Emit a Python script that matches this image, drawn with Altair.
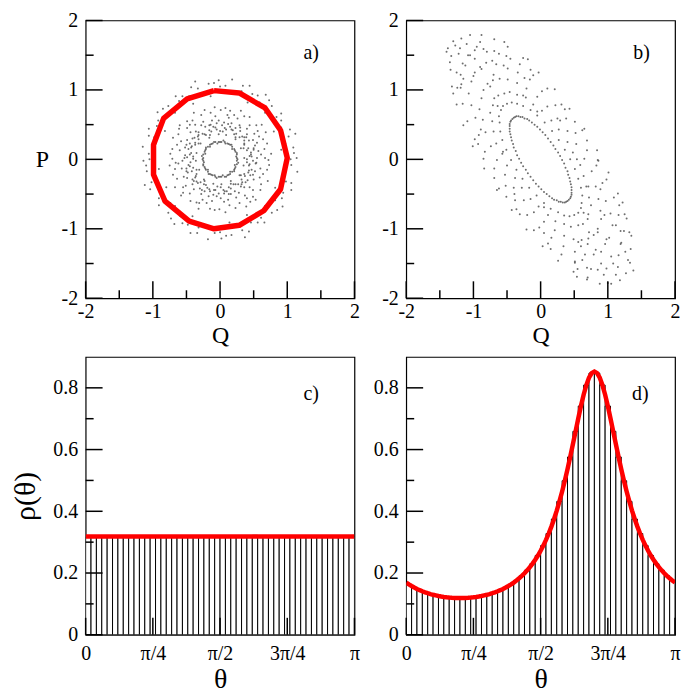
import altair as alt
import pandas as pd

FONT = "Liberation Serif, DejaVu Serif, serif"
W, H = 270, 279
MAJOR_LEN, MINOR_LEN = 17, 8

# ---------------- axis ticks / labels ----------------
QP_TICKS = [-2, -1, 0, 1, 2]
QP_LABELS = ["-2", "-1", "0", "1", "2"]
QP_MINOR = [-1.5, -0.5, 0.5, 1.5]
THETA_TICKS = [0, 0.25, 0.5, 0.75, 1]          # in units of pi
THETA_LABELS = ["0", "π/4", "π/2", "3π/4", "π"]
RHO_TICKS = [0, 0.2, 0.4, 0.6, 0.8]
RHO_LABELS = ["0", "0.2", "0.4", "0.6", "0.8"]
RHO_MINOR = [0.1, 0.3, 0.5, 0.7]

# ---------------- panel a ----------------
A_POLY_Q = [-0.09, 0.285, 0.67, 0.90, 1.00, 0.90, 0.65, 0.285, -0.09, -0.46, -0.82, -0.99, -0.99, -0.84, -0.49, -0.09]
A_POLY_P = [0.99, 0.956, 0.74, 0.42, 0.02, -0.43, -0.74, -0.95, -1.00, -0.89, -0.60, -0.22, 0.21, 0.59, 0.87, 0.99]

A_INNER = [
    (0.26, 0.00), (0.25, 0.02), (0.24, 0.04), (0.25, 0.07), (0.25, 0.09), (0.23, 0.11), (0.22, 0.13), (0.21, 0.15),
    (0.18, 0.15), (0.18, 0.18), (0.17, 0.21), (0.15, 0.21), (0.13, 0.22), (0.11, 0.23), (0.08, 0.23), (0.07, 0.25),
    (0.05, 0.27), (0.02, 0.25), (0.00, 0.25), (-0.02, 0.25), (-0.04, 0.23), (-0.07, 0.25), (-0.09, 0.25), (-0.11, 0.23),
    (-0.13, 0.22), (-0.15, 0.21), (-0.15, 0.18), (-0.18, 0.18), (-0.21, 0.17), (-0.21, 0.15), (-0.22, 0.13), (-0.23, 0.11),
    (-0.22, 0.08), (-0.25, 0.07), (-0.27, 0.05), (-0.25, 0.02), (-0.26, 0.00), (-0.25, -0.02), (-0.24, -0.04), (-0.25, -0.07),
    (-0.25, -0.09), (-0.23, -0.11), (-0.22, -0.13), (-0.21, -0.15), (-0.18, -0.15), (-0.18, -0.18), (-0.17, -0.21), (-0.15, -0.21),
    (-0.13, -0.22), (-0.11, -0.23), (-0.08, -0.23), (-0.07, -0.25), (-0.05, -0.27), (-0.02, -0.25), (0.00, -0.25), (0.02, -0.25),
    (0.04, -0.23), (0.07, -0.25), (0.09, -0.25), (0.11, -0.23), (0.13, -0.22), (0.15, -0.21), (0.15, -0.18), (0.18, -0.18),
    (0.21, -0.17), (0.21, -0.15), (0.22, -0.13), (0.23, -0.11), (0.22, -0.08), (0.25, -0.07), (0.27, -0.05), (0.25, -0.02),
]

A_MID = [
    (0.40, 0.00), (0.55, 0.02), (0.72, -0.01), (0.44, 0.05), (0.61, 0.07), (0.76, 0.08), (0.46, 0.10), (0.57, 0.12), (0.66, 0.15),
    (0.40, 0.13), (0.50, 0.16), (0.70, 0.23), (0.35, 0.16), (0.55, 0.24), (0.64, 0.29), (0.36, 0.21), (0.49, 0.28), (0.68, 0.39),
    (0.36, 0.27), (0.51, 0.37), (0.56, 0.41), (0.36, 0.32), (0.40, 0.36), (0.54, 0.49), (0.29, 0.32), (0.40, 0.44), (0.44, 0.49),
    (0.23, 0.32), (0.30, 0.41), (0.44, 0.61), (0.21, 0.36), (0.29, 0.49), (0.36, 0.62), (0.19, 0.42), (0.26, 0.59), (0.31, 0.70),
    (0.15, 0.47), (0.17, 0.52), (0.21, 0.64), (0.09, 0.43), (0.13, 0.60), (0.15, 0.70), (0.04, 0.40), (0.06, 0.53), (0.08, 0.74),
    (0.36, 0.02), (0.46, 0.07), (0.50, 0.14), (0.42, 0.16), (0.31, 0.16), (0.36, 0.23), (0.39, 0.32), (0.33, 0.33), (0.23, 0.29),
    (0.24, 0.37), (0.23, 0.45), (0.17, 0.43), (0.09, 0.35), (0.07, 0.45), (0.03, 0.49),
    (0.00, 0.41), (-0.02, 0.56), (0.01, 0.71), (-0.05, 0.43), (-0.07, 0.62), (-0.08, 0.75), (-0.10, 0.47), (-0.12, 0.56), (-0.14, 0.67),
    (-0.13, 0.40), (-0.16, 0.49), (-0.23, 0.71), (-0.15, 0.35), (-0.25, 0.54), (-0.28, 0.64), (-0.21, 0.35), (-0.28, 0.49), (-0.39, 0.67),
    (-0.26, 0.37), (-0.37, 0.50), (-0.41, 0.56), (-0.32, 0.35), (-0.36, 0.40), (-0.49, 0.55), (-0.32, 0.29), (-0.44, 0.39), (-0.49, 0.45),
    (-0.32, 0.23), (-0.41, 0.30), (-0.61, 0.44), (-0.37, 0.21), (-0.49, 0.28), (-0.62, 0.36), (-0.42, 0.19), (-0.58, 0.26), (-0.70, 0.31),
    (-0.47, 0.15), (-0.52, 0.17), (-0.64, 0.21), (-0.43, 0.09), (-0.60, 0.13), (-0.71, 0.15), (-0.40, 0.04), (-0.52, 0.06), (-0.74, 0.08),
    (-0.02, 0.36), (-0.07, 0.46), (-0.14, 0.50), (-0.16, 0.42), (-0.16, 0.31), (-0.23, 0.36), (-0.32, 0.39), (-0.33, 0.33), (-0.29, 0.23),
    (-0.37, 0.24), (-0.45, 0.23), (-0.43, 0.17), (-0.35, 0.09), (-0.45, 0.07), (-0.49, 0.03),
    (-0.40, 0.01), (-0.56, -0.02), (-0.71, 0.01), (-0.44, -0.04), (-0.62, -0.06), (-0.75, -0.09), (-0.45, -0.10), (-0.57, -0.13), (-0.67, -0.14),
    (-0.40, -0.12), (-0.50, -0.17), (-0.70, -0.22), (-0.35, -0.15), (-0.54, -0.25), (-0.64, -0.28), (-0.35, -0.21), (-0.49, -0.27), (-0.67, -0.40),
    (-0.37, -0.26), (-0.51, -0.38), (-0.55, -0.40), (-0.35, -0.32), (-0.41, -0.36), (-0.55, -0.48), (-0.29, -0.33), (-0.39, -0.43), (-0.45, -0.49),
    (-0.23, -0.31), (-0.30, -0.42), (-0.44, -0.60), (-0.21, -0.37), (-0.28, -0.50), (-0.35, -0.62), (-0.19, -0.41), (-0.26, -0.58), (-0.32, -0.71),
    (-0.15, -0.46), (-0.17, -0.53), (-0.20, -0.63), (-0.09, -0.44), (-0.12, -0.60), (-0.15, -0.71), (-0.04, -0.39), (-0.05, -0.53), (-0.08, -0.73),
    (-0.36, -0.02), (-0.47, -0.08), (-0.50, -0.13), (-0.42, -0.17), (-0.31, -0.15), (-0.36, -0.24), (-0.39, -0.31), (-0.33, -0.34), (-0.24, -0.29),
    (-0.24, -0.36), (-0.23, -0.46), (-0.16, -0.43), (-0.10, -0.35), (-0.07, -0.44), (-0.02, -0.49),
    (0.01, -0.40), (0.01, -0.56), (-0.01, -0.72), (0.05, -0.44), (0.06, -0.61), (0.08, -0.76), (0.10, -0.46), (0.12, -0.58), (0.14, -0.66),
    (0.13, -0.40), (0.16, -0.50), (0.23, -0.70), (0.16, -0.35), (0.24, -0.55), (0.29, -0.63), (0.20, -0.36), (0.28, -0.48), (0.39, -0.68),
    (0.27, -0.36), (0.37, -0.52), (0.40, -0.56), (0.32, -0.36), (0.36, -0.40), (0.49, -0.54), (0.32, -0.29), (0.44, -0.40), (0.49, -0.44),
    (0.31, -0.23), (0.41, -0.30), (0.60, -0.44), (0.36, -0.21), (0.50, -0.29), (0.61, -0.36), (0.42, -0.19), (0.59, -0.26), (0.71, -0.31),
    (0.47, -0.15), (0.52, -0.17), (0.64, -0.21), (0.43, -0.09), (0.60, -0.13), (0.70, -0.15), (0.40, -0.04), (0.53, -0.06), (0.73, -0.08),
    (0.02, -0.36), (0.07, -0.46), (0.13, -0.50), (0.16, -0.42), (0.16, -0.31), (0.23, -0.36), (0.31, -0.39), (0.33, -0.33), (0.29, -0.23),
    (0.37, -0.24), (0.45, -0.23), (0.43, -0.16), (0.35, -0.09), (0.44, -0.07), (0.49, -0.02),
    (0.47, 0.04), (0.52, 0.20), (0.43, 0.27), (0.30, 0.46), (0.12, 0.51), (-0.05, 0.52), (-0.22, 0.47), (-0.38, 0.31), (-0.50, 0.21),
    (-0.53, 0.02), (-0.48, -0.19), (-0.41, -0.29), (-0.27, -0.44), (-0.10, -0.51), (0.06, -0.49), (0.22, -0.46), (0.38, -0.33),
    (0.49, -0.22), (0.54, -0.05), (0.58, 0.33), (0.11, 0.64), (-0.45, 0.50), (-0.66, -0.05), (-0.31, -0.63), (0.45, -0.61),
    (0.67, 0.02), (0.62, 0.50), (-0.60, 0.49), (-0.58, -0.52), (0.53, -0.58),
]

A_OUTER = [
    (1.05, 0.00), (1.14, 0.02), (0.91, 0.14), (1.09, 0.17), (1.02, 0.33), (1.12, 0.37), (0.91, 0.46), (0.80, 0.40), (0.91, 0.66), (0.84, 0.61),
    (0.67, 0.67), (0.77, 0.77), (0.68, 0.93), (0.59, 0.82), (0.48, 0.94), (0.41, 0.82), (0.34, 1.06), (0.32, 0.98), (0.15, 0.97), (0.18, 1.15),
    (1.10, 0.09), (0.97, 0.23), (1.04, 0.43), (0.91, 0.56), (0.74, 0.63), (0.73, 0.85), (0.56, 0.92), (0.44, 1.06), (0.23, 0.96), (0.08, 1.06),
    (0.00, 1.05), (-0.02, 1.14), (-0.14, 0.91), (-0.17, 1.09), (-0.33, 1.02), (-0.37, 1.12), (-0.46, 0.91), (-0.40, 0.80), (-0.66, 0.91), (-0.61, 0.84),
    (-0.67, 0.67), (-0.77, 0.77), (-0.93, 0.68), (-0.82, 0.59), (-0.94, 0.48), (-0.82, 0.41), (-1.06, 0.34), (-0.98, 0.32), (-0.97, 0.15), (-1.15, 0.18),
    (-0.09, 1.10), (-0.23, 0.97), (-0.43, 1.04), (-0.56, 0.91), (-0.63, 0.74), (-0.85, 0.73), (-0.92, 0.56), (-1.06, 0.44), (-0.96, 0.23), (-1.06, 0.08),
    (-1.05, 0.00), (-1.14, -0.02), (-0.91, -0.14), (-1.09, -0.17), (-1.02, -0.33), (-1.12, -0.37), (-0.91, -0.46), (-0.80, -0.40), (-0.91, -0.66), (-0.84, -0.61),
    (-0.67, -0.67), (-0.77, -0.77), (-0.68, -0.93), (-0.59, -0.82), (-0.48, -0.94), (-0.41, -0.82), (-0.34, -1.06), (-0.32, -0.98), (-0.15, -0.97), (-0.18, -1.15),
    (-1.10, -0.09), (-0.97, -0.23), (-1.04, -0.43), (-0.91, -0.56), (-0.74, -0.63), (-0.73, -0.85), (-0.56, -0.92), (-0.44, -1.06), (-0.23, -0.96), (-0.08, -1.06),
    (0.00, -1.05), (0.02, -1.14), (0.14, -0.91), (0.17, -1.09), (0.33, -1.02), (0.37, -1.12), (0.46, -0.91), (0.40, -0.80), (0.66, -0.91), (0.61, -0.84),
    (0.67, -0.67), (0.77, -0.77), (0.93, -0.68), (0.82, -0.59), (0.94, -0.48), (0.82, -0.41), (1.06, -0.34), (0.98, -0.32), (0.97, -0.15), (1.15, -0.18),
    (0.09, -1.10), (0.23, -0.97), (0.43, -1.04), (0.56, -0.91), (0.63, -0.74), (0.85, -0.73), (0.92, -0.56), (1.06, -0.44), (0.96, -0.23), (1.06, -0.08),
]

# ---------------- panel b ----------------
B_INNER = [
    (0.40, -0.60), (0.42, -0.58), (0.44, -0.56), (0.45, -0.54), (0.46, -0.51), (0.46, -0.48), (0.46, -0.44), (0.46, -0.40), (0.45, -0.36),
    (0.44, -0.32), (0.43, -0.27), (0.41, -0.22), (0.40, -0.17), (0.37, -0.12), (0.35, -0.06), (0.32, -0.01), (0.29, 0.05), (0.26, 0.10),
    (0.22, 0.15), (0.19, 0.20), (0.15, 0.25), (0.11, 0.30), (0.07, 0.35), (0.03, 0.39), (-0.01, 0.43), (-0.05, 0.47), (-0.09, 0.50),
    (-0.13, 0.53), (-0.17, 0.56), (-0.20, 0.58), (-0.24, 0.59), (-0.27, 0.61), (-0.30, 0.61), (-0.33, 0.62), (-0.36, 0.62), (-0.38, 0.61),
    (-0.40, 0.60), (-0.42, 0.58), (-0.44, 0.56), (-0.45, 0.54), (-0.46, 0.51), (-0.46, 0.48), (-0.46, 0.44), (-0.46, 0.40), (-0.45, 0.36),
    (-0.44, 0.32), (-0.43, 0.27), (-0.41, 0.22), (-0.40, 0.17), (-0.37, 0.12), (-0.35, 0.06), (-0.32, 0.01), (-0.29, -0.05), (-0.26, -0.10),
    (-0.22, -0.15), (-0.19, -0.20), (-0.15, -0.25), (-0.11, -0.30), (-0.07, -0.35), (-0.03, -0.39), (0.01, -0.43), (0.05, -0.47), (0.09, -0.50),
    (0.13, -0.53), (0.17, -0.56), (0.20, -0.58), (0.24, -0.59), (0.27, -0.61), (0.30, -0.61), (0.33, -0.62), (0.36, -0.62), (0.38, -0.61),
]

B_RINGS = [
    (0.63, -0.93), (0.70, -0.86), (0.71, -0.79), (0.75, -0.66), (0.72, -0.55), (0.71, -0.39), (0.64, -0.24), (0.59, -0.08), (0.48, 0.10),
    (0.40, 0.25), (0.27, 0.43), (0.16, 0.56), (0.02, 0.70), (-0.11, 0.79), (-0.22, 0.89), (-0.35, 0.93), (-0.46, 0.97), (-0.54, 0.95),
    (-0.63, 0.92), (-0.69, 0.88), (-0.71, 0.78), (-0.75, 0.67), (-0.72, 0.55), (-0.70, 0.40), (-0.66, 0.23), (-0.57, 0.08), (-0.50, -0.09),
    (-0.38, -0.27), (-0.28, -0.41), (-0.15, -0.57), (-0.03, -0.68), (0.11, -0.80), (0.22, -0.89), (0.35, -0.93), (0.45, -0.97), (0.56, -0.95),
    (0.56, -0.77), (0.60, -0.70), (0.61, -0.63), (0.62, -0.52), (0.60, -0.41), (0.56, -0.28), (0.51, -0.14), (0.44, 0.00), (0.36, 0.14),
    (0.27, 0.28), (0.17, 0.41), (0.06, 0.53), (-0.05, 0.63), (-0.15, 0.71), (-0.26, 0.77), (-0.35, 0.80), (-0.43, 0.82), (-0.50, 0.80),
    (-0.56, 0.77), (-0.59, 0.71), (-0.62, 0.62), (-0.61, 0.53), (-0.60, 0.40), (-0.57, 0.28), (-0.51, 0.14), (-0.44, -0.01), (-0.36, -0.15),
    (-0.27, -0.28), (-0.17, -0.41), (-0.06, -0.52), (0.05, -0.63), (0.15, -0.71), (0.26, -0.76), (0.35, -0.81), (0.43, -0.82), (0.50, -0.80),
    (0.90, -1.33), (0.96, -1.22), (1.02, -1.13), (1.07, -0.95), (1.04, -0.78), (0.97, -0.60), (0.92, -0.34), (0.83, -0.09), (0.69, 0.13),
    (0.52, 0.38), (0.38, 0.59), (0.22, 0.78), (0.02, 0.98), (-0.16, 1.15), (-0.34, 1.25), (-0.49, 1.31), (-0.66, 1.37), (-0.81, 1.39),
    (-0.90, 1.33), (-0.98, 1.25), (-1.03, 1.12), (-1.07, 0.95), (-1.03, 0.78), (-0.97, 0.60), (-0.92, 0.35), (-0.83, 0.11), (-0.69, -0.13),
    (-0.52, -0.38), (-0.38, -0.59), (-0.20, -0.80), (-0.02, -0.98), (0.16, -1.13), (0.34, -1.25), (0.51, -1.33), (0.66, -1.37), (0.79, -1.37),
    (0.79, -1.09), (0.85, -1.00), (0.90, -0.86), (0.89, -0.74), (0.86, -0.57), (0.82, -0.39), (0.76, -0.17), (0.65, 0.01), (0.53, 0.22),
    (0.40, 0.41), (0.25, 0.59), (0.10, 0.76), (-0.05, 0.90), (-0.21, 1.02), (-0.35, 1.10), (-0.49, 1.15), (-0.61, 1.16), (-0.71, 1.14),
    (-0.79, 1.09), (-0.85, 1.00), (-0.88, 0.88), (-0.91, 0.72), (-0.86, 0.57), (-0.82, 0.39), (-0.74, 0.19), (-0.65, -0.01), (-0.53, -0.22),
    (-0.40, -0.41), (-0.25, -0.59), (-0.10, -0.76), (0.05, -0.90), (0.21, -1.02), (0.35, -1.10), (0.49, -1.15), (0.61, -1.16), (0.71, -1.14),
    (1.18, -1.74), (1.27, -1.64), (1.33, -1.49), (1.34, -1.29), (1.32, -1.05), (1.25, -0.79), (1.15, -0.49), (1.01, -0.19), (0.84, 0.13),
    (0.65, 0.44), (0.43, 0.73), (0.21, 1.01), (-0.03, 1.25), (-0.26, 1.46), (-0.49, 1.62), (-0.69, 1.73), (-0.88, 1.79), (-1.05, 1.79),
    (-1.18, 1.74), (-1.27, 1.64), (-1.33, 1.49), (-1.34, 1.29), (-1.32, 1.05), (-1.25, 0.79), (-1.15, 0.49), (-1.01, 0.19), (-0.84, -0.13),
    (-0.65, -0.44), (-0.43, -0.73), (-0.21, -1.01), (0.03, -1.25), (0.26, -1.46), (0.49, -1.62), (0.69, -1.73), (0.88, -1.79), (1.05, -1.79),
    (1.08, -1.50), (1.16, -1.38), (1.19, -1.22), (1.19, -1.03), (1.16, -0.80), (1.09, -0.55), (0.98, -0.29), (0.85, -0.01), (0.69, 0.27),
    (0.51, 0.54), (0.31, 0.79), (0.10, 1.02), (-0.11, 1.21), (-0.31, 1.37), (-0.51, 1.49), (-0.69, 1.56), (-0.85, 1.59), (-0.98, 1.57),
    (-1.08, 1.50), (-1.16, 1.38), (-1.19, 1.22), (-1.19, 1.03), (-1.16, 0.80), (-1.09, 0.55), (-0.98, 0.29), (-0.85, 0.01), (-0.69, -0.27),
    (-0.51, -0.54), (-0.31, -0.79), (-0.10, -1.02), (0.11, -1.21), (0.31, -1.37), (0.51, -1.49), (0.69, -1.56), (0.85, -1.59), (0.98, -1.57),
]

B_SCATTER = [
    (1.26, -1.33), (0.51, -1.47), (1.17, -0.66), (0.05, -1.06), (0.86, -0.02), (-0.39, -0.50), (0.29, 0.56), (-0.93, 0.22),
    (-0.24, 1.17), (-1.15, 1.16), (-0.90, 1.69), (-1.20, 1.60), (1.12, -1.66), (0.56, -1.19), (0.68, -0.39), (-0.26, 0.92),
    (-0.19, 1.44), (-0.56, 0.11), (0.54, 0.00), (0.64, -0.77), (-0.64, 0.77), (0.54, -1.69), (-0.54, 1.69), (0.62, 0.42),
    (-0.62, -0.42), (1.24, -1.03), (-1.24, 1.03), (0.05, -0.69), (-0.05, 0.69), (0.94, -1.66), (-0.70, 1.22), (0.70, -1.22),
    (-0.36, -0.72), (0.36, 0.72), (1.38, -1.60), (-1.38, 1.60), (0.89, -0.43), (-0.89, 0.43), (0.15, -1.29), (-0.15, 1.29),
    (-1.30, 1.70), (-1.22, 1.52), (-1.10, 1.66), (-0.98, 1.45), (-1.35, 1.40), (-1.25, 1.25), (-1.12, 1.35), (-0.95, 1.62),
    (-0.80, 1.55), (-0.72, 1.42), (-1.40, 1.55), (-1.05, 1.50), (-0.88, 1.30), (-1.18, 1.08), (-1.30, 0.95), (-0.62, 1.52),
    (-0.55, 1.35), (-0.45, 1.45), (-1.00, 1.20), (-0.75, 1.05),
    (0.62, -1.45), (0.75, -1.58), (0.90, -1.50), (1.05, -1.40), (1.20, -1.20), (1.30, -1.45), (0.82, -1.30), (0.98, -1.15),
    (1.12, -0.95), (1.28, -0.85), (0.70, -1.70), (1.00, -1.78), (0.55, -1.58), (1.15, -1.55), (0.85, -1.05), (1.35, -1.10),
    (0.95, -0.80), (1.22, -0.62), (0.60, -1.25), (0.72, -1.05),
]

# ---------------- panels c, d (theta in units of pi) ----------------
BIN_EDGES = [0.00, 0.02, 0.04, 0.06, 0.08, 0.10, 0.12, 0.14, 0.16, 0.18, 0.20, 0.22, 0.24, 0.26, 0.28, 0.30, 0.32,
             0.34, 0.36, 0.38, 0.40, 0.42, 0.44, 0.46, 0.48, 0.50, 0.52, 0.54, 0.56, 0.58, 0.60, 0.62, 0.64, 0.66,
             0.68, 0.70, 0.72, 0.74, 0.76, 0.78, 0.80, 0.82, 0.84, 0.86, 0.88, 0.90, 0.92, 0.94, 0.96, 0.98, 1.00]

C_HIST = [0.316, 0.315, 0.317, 0.318, 0.319, 0.320, 0.319, 0.316, 0.317, 0.318, 0.320, 0.321, 0.321, 0.318, 0.316,
          0.315, 0.317, 0.318, 0.317, 0.316, 0.318, 0.320, 0.321, 0.320, 0.317, 0.315, 0.316, 0.318, 0.317, 0.319,
          0.321, 0.322, 0.320, 0.317, 0.316, 0.318, 0.319, 0.318, 0.316, 0.315, 0.317, 0.319, 0.320, 0.318, 0.316,
          0.317, 0.319, 0.320, 0.318, 0.317]
C_LINE_T = [0.0, 1.0]
C_LINE_RHO = [0.318, 0.318]

D_HIST = [0.163, 0.153, 0.144, 0.138, 0.132, 0.127, 0.124, 0.121, 0.120, 0.119, 0.119, 0.120, 0.121, 0.124, 0.127,
          0.132, 0.138, 0.144, 0.153, 0.163, 0.176, 0.191, 0.209, 0.230, 0.257, 0.289, 0.328, 0.375, 0.432, 0.499,
          0.576, 0.659, 0.741, 0.809, 0.848, 0.848, 0.809, 0.741, 0.659, 0.576, 0.499, 0.432, 0.375, 0.328, 0.289,
          0.257, 0.230, 0.209, 0.191, 0.176]

D_CURVE_T = [0.00, 0.01, 0.02, 0.03, 0.04, 0.05, 0.06, 0.07, 0.08, 0.09, 0.10, 0.11, 0.12, 0.13, 0.14, 0.15, 0.16,
             0.17, 0.18, 0.19, 0.20, 0.21, 0.22, 0.23, 0.24, 0.25, 0.26, 0.27, 0.28, 0.29, 0.30, 0.31, 0.32, 0.33,
             0.34, 0.35, 0.36, 0.37, 0.38, 0.39, 0.40, 0.41, 0.42, 0.43, 0.44, 0.45, 0.46, 0.47, 0.48, 0.49, 0.50,
             0.51, 0.52, 0.53, 0.54, 0.55, 0.56, 0.57, 0.58, 0.59, 0.60, 0.61, 0.62, 0.63, 0.64, 0.65, 0.66, 0.67,
             0.68, 0.69, 0.70, 0.71, 0.72, 0.73, 0.74, 0.75, 0.76, 0.77, 0.78, 0.79, 0.80, 0.81, 0.82, 0.83, 0.84,
             0.85, 0.86, 0.87, 0.88, 0.89, 0.90, 0.91, 0.92, 0.93, 0.94, 0.95, 0.96, 0.97, 0.98, 0.99, 1.00]
D_CURVE_RHO = [0.169, 0.163, 0.1578, 0.153, 0.1485, 0.1444, 0.1408, 0.1375, 0.1345, 0.1318, 0.1294, 0.1274, 0.1255,
               0.1239, 0.1225, 0.1213, 0.1204, 0.1197, 0.1192, 0.1189, 0.1188, 0.1189, 0.1192, 0.1197, 0.1204, 0.1213,
               0.1225, 0.1239, 0.1255, 0.1274, 0.1294, 0.1318, 0.1345, 0.1375, 0.1408, 0.1444, 0.1485, 0.153, 0.1578,
               0.163, 0.169, 0.1756, 0.1827, 0.1906, 0.1991, 0.2086, 0.2189, 0.2304, 0.2430, 0.2568, 0.2721, 0.2889,
               0.3075, 0.328, 0.3504, 0.375, 0.4023, 0.432, 0.4642, 0.499, 0.5365, 0.576, 0.6172, 0.659, 0.7009, 0.741,
               0.7776, 0.809, 0.8327, 0.848, 0.853, 0.848, 0.8327, 0.809, 0.7776, 0.741, 0.7009, 0.659, 0.6172, 0.576,
               0.5365, 0.499, 0.4642, 0.432, 0.4023, 0.375, 0.3504, 0.328, 0.3075, 0.2889, 0.2721, 0.2568, 0.2430,
               0.2304, 0.2189, 0.2086, 0.1991, 0.1906, 0.1827, 0.1756, 0.169]

PANEL_TAGS = ["a)", "b)", "c)", "d)"]
TAG_X = [1.24, 1.38, 0.81, 0.84]
TAG_Y = [1.53, 1.53, 0.78, 0.78]


# ---------------- helpers ----------------
def label_expr(vals, labels):
    s = "''"
    for v, l in zip(reversed(vals), reversed(labels)):
        s = f"datum.value == {v} ? '{l}' : ({s})"
    return s


BASE_AXIS = dict(ticks=False, tickSize=0, domain=False, grid=False, labelFont=FONT, labelFontSize=20,
                 labelColor="black", labelFlush=False, labelOverlap=False, titleFont=FONT,
                 titleFontWeight="normal", titleColor="black")


def make_x_axis(vals, labels, title, pad, title_y, title_size):
    kw = dict(BASE_AXIS, values=vals, labelExpr=label_expr(vals, labels), labelPadding=pad, title=title,
              titleFontSize=title_size, titleY=title_y, titleX=W / 2, titleAlign="center", titleBaseline="middle")
    return alt.Axis(**kw)


def make_y_axis(vals, labels, title=None, title_x=0, title_angle=0, title_size=24):
    kw = dict(BASE_AXIS, values=vals, labelExpr=label_expr(vals, labels), labelPadding=8, title=title)
    if title is not None:
        kw.update(titleFontSize=title_size, titleX=title_x, titleY=H / 2, titleAngle=title_angle,
                  titleAlign="center", titleBaseline="middle")
    return alt.Axis(**kw)


def panel(xdom, ydom, xaxis, yaxis, data_layers, xmaj, xmin, ymaj, ymin, tag, tx, ty):
    X = alt.X("x:Q", scale=alt.Scale(domain=xdom, nice=False, zero=False), axis=xaxis)
    Y = alt.Y("y:Q", scale=alt.Scale(domain=ydom, nice=False, zero=False), axis=yaxis)
    layers = [fn(X, Y) for fn in data_layers]
    for vals, ln in ((xmaj, MAJOR_LEN), (xmin, MINOR_LEN)):
        if vals:
            layers.append(alt.Chart(pd.DataFrame({"x": vals})).mark_rule(color="black", strokeWidth=1.5).encode(
                x=X, y=alt.value(H), y2=alt.value(H - ln)))
    for vals, ln in ((ymaj, MAJOR_LEN), (ymin, MINOR_LEN)):
        if vals:
            layers.append(alt.Chart(pd.DataFrame({"y": vals})).mark_rule(color="black", strokeWidth=1.5).encode(
                y=Y, x=alt.value(0), x2=alt.value(ln)))
    layers.append(alt.Chart(pd.DataFrame({"x": [tx], "y": [ty], "t": [tag]})).mark_text(
        font=FONT, fontSize=20, align="left", baseline="middle", color="black").encode(x=X, y=Y, text="t:N"))
    return alt.layer(*layers).properties(width=W, height=H)


def points_layer(pts):
    df = pd.DataFrame(pts, columns=["x", "y"])
    return lambda X, Y: alt.Chart(df).mark_circle(size=4, color="#555555", opacity=0.85, clip=True).encode(x=X, y=Y)


def polygon_layer():
    df = pd.DataFrame({"x": A_POLY_Q, "y": A_POLY_P, "i": list(range(len(A_POLY_Q)))})
    return lambda X, Y: alt.Chart(df).mark_line(color="#ff0000", strokeWidth=5.5, strokeJoin="round").encode(
        x=X, y=Y, order=alt.Order("i:Q"))


def hist_layer(vals):
    df = pd.DataFrame({"x": BIN_EDGES[:-1], "x2": BIN_EDGES[1:], "y": vals})
    return lambda X, Y: alt.Chart(df).mark_bar(fill="white", stroke="black", strokeWidth=1, clip=True).encode(
        x=X, x2="x2", y=Y, y2=alt.value(H))


def curve_layer(ts, rhos, width):
    df = pd.DataFrame({"x": ts, "y": rhos})
    return lambda X, Y: alt.Chart(df).mark_line(color="#ff0000", strokeWidth=width, clip=True).encode(x=X, y=Y)


qp_x_axis = make_x_axis(QP_TICKS, QP_LABELS, "Q", 3, 37, 24)
th_x_axis = make_x_axis(THETA_TICKS, THETA_LABELS, "θ", 9, 45, 28)

pa = panel([-2, 2], [-2, 2], qp_x_axis, make_y_axis(QP_TICKS, QP_LABELS, "P", -44, 0, 24),
           [points_layer(A_INNER + A_MID + A_OUTER), polygon_layer()],
           QP_TICKS, QP_MINOR, QP_TICKS, QP_MINOR, PANEL_TAGS[0], TAG_X[0], TAG_Y[0])
pb = panel([-2, 2], [-2, 2], qp_x_axis, make_y_axis(QP_TICKS, QP_LABELS),
           [points_layer(B_INNER + B_RINGS + B_SCATTER)],
           QP_TICKS, QP_MINOR, QP_TICKS, QP_MINOR, PANEL_TAGS[1], TAG_X[1], TAG_Y[1])
pc = panel([0, 1], [0, 0.9], th_x_axis, make_y_axis(RHO_TICKS, RHO_LABELS, "ρ(θ)", -60, 270, 30),
           [hist_layer(C_HIST), curve_layer(C_LINE_T, C_LINE_RHO, 4.5)],
           THETA_TICKS, [], RHO_TICKS, RHO_MINOR, PANEL_TAGS[2], TAG_X[2], TAG_Y[2])
pd_ = panel([0, 1], [0, 0.9], th_x_axis, make_y_axis(RHO_TICKS, RHO_LABELS),
            [hist_layer(D_HIST), curve_layer(D_CURVE_T, D_CURVE_RHO, 4.5)],
            THETA_TICKS, [], RHO_TICKS, RHO_MINOR, PANEL_TAGS[3], TAG_X[3], TAG_Y[3])

chart = alt.concat(pa, pb, pc, pd_, columns=2, spacing={"row": 8, "column": 12}).properties(
    padding={"left": 2, "top": 0, "right": 0, "bottom": 0}
).configure(font=FONT).configure_axis(labelFont=FONT, titleFont=FONT).configure_text(font=FONT).configure_view(
    stroke="black", strokeWidth=1.2)

chart.save("out.html", embed_options={"renderer": "svg", "actions": False})
